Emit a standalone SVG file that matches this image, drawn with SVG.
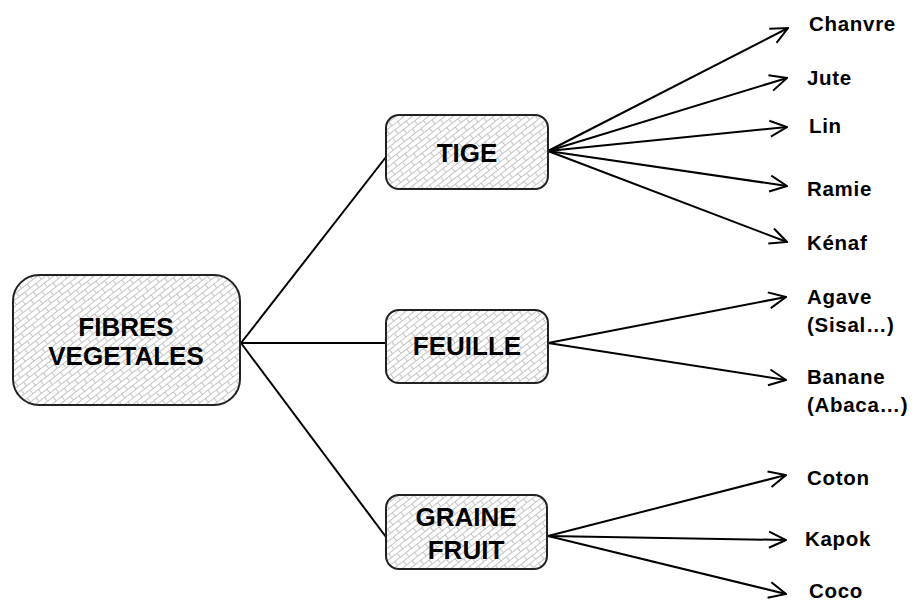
<svg xmlns="http://www.w3.org/2000/svg" width="915" height="603" viewBox="0 0 915 603">
  <defs>
    <pattern id="bricks" width="14" height="10" patternUnits="userSpaceOnUse" patternTransform="rotate(-38)">
      <rect width="14" height="10" fill="#ffffff"/>
      <path d="M0 0.5H14M0 5.5H14M0.5 0.5V5.5M7.5 5.5V10.5" stroke="#c4c4c4" stroke-width="1" fill="none"/>
    </pattern>
    <marker id="arr" viewBox="0 0 20 20" refX="19" refY="10" markerWidth="20" markerHeight="20" markerUnits="userSpaceOnUse" orient="auto">
      <path d="M2 2L19 10L2 18" fill="none" stroke="#000" stroke-width="2"/>
    </marker>
  </defs>
  <style>
    .box { fill: url(#bricks); stroke: #222; stroke-width: 2; }
    .big { font-family: "Liberation Sans", Arial, sans-serif; font-weight: bold; font-size: 26px; fill: #000; text-anchor: middle; }
    .lbl { font-family: "Liberation Sans", Arial, sans-serif; font-weight: bold; font-size: 20.5px; letter-spacing: 0.7px; fill: #000; }
    .ln { stroke: #000; stroke-width: 2; fill: none; }
    .ar { stroke: #000; stroke-width: 2; fill: none; marker-end: url(#arr); }
  </style>
  <rect width="915" height="603" fill="#ffffff"/>

  <g id="connectors">
    <line class="ln" x1="241" y1="343" x2="386" y2="157"/>
    <line class="ln" x1="241" y1="343" x2="386" y2="343"/>
    <line class="ln" x1="241" y1="343" x2="386" y2="537"/>

    <line class="ar" x1="548" y1="151" x2="788" y2="28"/>
    <line class="ar" x1="548" y1="151" x2="787" y2="78"/>
    <line class="ar" x1="548" y1="151" x2="787" y2="127"/>
    <line class="ar" x1="548" y1="151" x2="787" y2="186"/>
    <line class="ar" x1="548" y1="151" x2="787" y2="242"/>

    <line class="ar" x1="548" y1="343" x2="786" y2="297"/>
    <line class="ar" x1="548" y1="343" x2="786" y2="380"/>

    <line class="ar" x1="548" y1="536" x2="786" y2="475"/>
    <line class="ar" x1="548" y1="536" x2="786" y2="540"/>
    <line class="ar" x1="548" y1="536" x2="786" y2="594"/>
  </g>

  <g id="fibres">
    <rect class="box" x="13" y="275" width="227" height="130" rx="26" ry="26"/>
    <text class="big" x="126" y="336">FIBRES</text>
    <text class="big" x="126" y="365">VEGETALES</text>
  </g>
  <g id="tige">
    <rect class="box" x="386" y="115" width="162" height="74" rx="13" ry="13"/>
    <text class="big" x="467" y="162">TIGE</text>
  </g>
  <g id="feuille">
    <rect class="box" x="386" y="310" width="162" height="73" rx="13" ry="13"/>
    <text class="big" x="467" y="355">FEUILLE</text>
  </g>
  <g id="graine">
    <rect class="box" x="386" y="495" width="161" height="74" rx="13" ry="13"/>
    <text class="big" x="466" y="526">GRAINE</text>
    <text class="big" x="466" y="559">FRUIT</text>
  </g>

  <g id="chanvre"><text class="lbl" x="809" y="31">Chanvre</text></g>
  <g id="jute"><text class="lbl" x="807" y="85">Jute</text></g>
  <g id="lin"><text class="lbl" x="809" y="133">Lin</text></g>
  <g id="ramie"><text class="lbl" x="807" y="196">Ramie</text></g>
  <g id="kenaf"><text class="lbl" x="807" y="250">Kénaf</text></g>
  <g id="agave"><text class="lbl" x="807" y="304">Agave</text><text class="lbl" x="807" y="332">(Sisal…)</text></g>
  <g id="banane"><text class="lbl" x="807" y="384">Banane</text><text class="lbl" x="807" y="412">(Abaca…)</text></g>
  <g id="coton"><text class="lbl" x="807" y="485">Coton</text></g>
  <g id="kapok"><text class="lbl" x="805" y="546">Kapok</text></g>
  <g id="coco"><text class="lbl" x="809" y="598">Coco</text></g>
</svg>
